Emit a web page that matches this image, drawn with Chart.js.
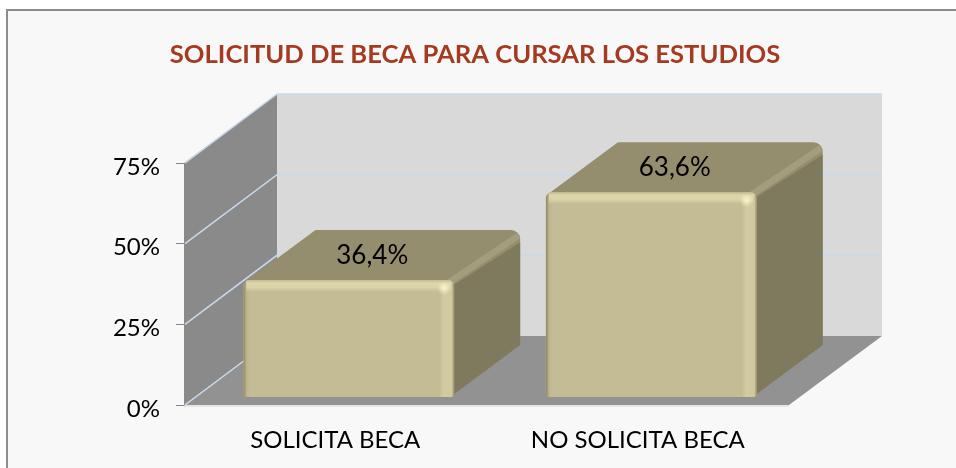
<!DOCTYPE html>
<html><head><meta charset="utf-8">
<style>
html,body{margin:0;padding:0;background:#fff;width:956px;height:468px;overflow:hidden}
#frame{position:absolute;left:6px;top:9px;right:0;bottom:0;background:#f8f8f8;border-left:2px solid #8c8c8c;border-top:2px solid #8c8c8c}
#wrap{position:absolute;left:0;top:0;width:950px;height:468px}
</style>
<script src="https://cdn.jsdelivr.net/npm/chart.js@4"></script>
</head><body>
<div id="frame"></div>
<div id="wrap"><canvas id="c" width="950" height="468"></canvas></div>
<script>
const titleText = 'SOLICITUD DE BECA PARA CURSAR LOS ESTUDIOS';
const categories = ['SOLICITA BECA', 'NO SOLICITA BECA'];
const values = [36.4, 63.6];
const tickValues = [0, 25, 50, 75];

const FONT = 'Lato, "Open Sans", sans-serif';

function roundedPoly(ctx, pts, r) {
  ctx.beginPath();
  const n = pts.length;
  const first = pts[0];
  const last = pts[n - 1];
  ctx.moveTo((first[0] + last[0]) / 2, (first[1] + last[1]) / 2);
  for (let i = 0; i < n; i++) {
    const a = pts[i], b = pts[(i + 1) % n];
    ctx.arcTo(a[0], a[1], b[0], b[1], r[i]);
  }
  ctx.closePath();
}
function poly(ctx, pts, fill) {
  ctx.beginPath();
  pts.forEach((p, i) => i ? ctx.lineTo(p[0], p[1]) : ctx.moveTo(p[0], p[1]));
  ctx.closePath();
  ctx.fillStyle = fill;
  ctx.fill();
}
const WALL = { dx: 93, dy: 69 };
const OFFSET = { x: 13.5, y: 7.5 };
const DEPTH = { dx: 66, dy: 51 };

const stage3d = {
  id: 'stage3d',
  beforeDatasetsDraw(chart) {
    const { ctx, scales: { x, y } } = chart;
    const y0 = y.getPixelForValue(0), yT = y.getPixelForValue(75);
    const L = x.left, R = x.right;
    ctx.save();
    poly(ctx, [[L + WALL.dx, yT - WALL.dy], [R + WALL.dx, yT - WALL.dy], [R + WALL.dx, y0 - WALL.dy], [L + WALL.dx, y0 - WALL.dy]], '#d9d9d9');
    poly(ctx, [[L, yT], [L + WALL.dx, yT - WALL.dy], [L + WALL.dx, y0 - WALL.dy], [L, y0]], '#8a8a8a');
    poly(ctx, [[L, y0], [R, y0], [R + WALL.dx, y0 - WALL.dy], [L + WALL.dx, y0 - WALL.dy]], '#929292');
    ctx.strokeStyle = '#d4d4d4'; ctx.lineWidth = 1.2;
    ctx.beginPath(); ctx.moveTo(L, y0 + 1); ctx.lineTo(R, y0 + 1); ctx.stroke();
    ctx.strokeStyle = '#c9d9ec'; ctx.lineWidth = 1.5;
    tickValues.forEach(v => {
      const py = y.getPixelForValue(v);
      ctx.beginPath();
      ctx.moveTo(L + 1, py);
      ctx.lineTo(L + WALL.dx, py - WALL.dy);
      if (v > 0) ctx.lineTo(R + WALL.dx, py - WALL.dy);
      ctx.stroke();
    });
    ctx.restore();
  },
  beforeDatasetDraw(chart) {
    const { ctx } = chart;
    const bars = chart.getDatasetMeta(0).data;
    ctx.save();
    ctx.translate(OFFSET.x, -OFFSET.y);
    bars.forEach(b => {
      const l = b.x - b.width / 2, r = b.x + b.width / 2, t = b.y, bt = b.base;
      ctx.save();
      // silhouette of the top and side faces
      roundedPoly(ctx, [[l + 2, t + 2], [l + DEPTH.dx + 6, t - DEPTH.dy + 1], [r + DEPTH.dx, t - DEPTH.dy + 1], [r + DEPTH.dx, bt - DEPTH.dy - 1], [r - 4, bt], [r - 4, t + 2]], [0, 2, 9, 0, 0, 0]);
      ctx.fillStyle = '#948e6f';
      ctx.fill();
      ctx.clip();
      // side face
      poly(ctx, [[r - 2, t + 6], [r + DEPTH.dx + 2, t - DEPTH.dy + 12], [r + DEPTH.dx + 2, bt], [r - 2, bt]], '#7f7a5e');
      // lit edge between the top and side faces
      ctx.strokeStyle = '#a39d7e';
      ctx.lineWidth = 6.5;
      ctx.lineCap = 'butt';
      ctx.beginPath();
      ctx.moveTo(r - 6, t + 3);
      ctx.lineTo(r + DEPTH.dx + 4, t - DEPTH.dy + 3);
      ctx.stroke();
      ctx.restore();
    });
    ctx.restore();
    ctx.save();
    ctx.translate(OFFSET.x, -OFFSET.y);
  },
  afterDatasetDraw(chart) {
    const { ctx } = chart;
    ctx.restore();
    const bars = chart.getDatasetMeta(0).data;
    ctx.save();
    ctx.translate(OFFSET.x, -OFFSET.y);
    bars.forEach(b => {
      const l = b.x - b.width / 2, r = b.x + b.width / 2, t = b.y, bt = b.base;
      const w = r - l;
      ctx.save();
      roundedPoly(ctx, [[l, t], [r, t], [r, bt], [l, bt]], [6, 6, 4, 1]);
      ctx.clip();
      // left bevel
      let g = ctx.createLinearGradient(l, 0, l + 9, 0);
      g.addColorStop(0, 'rgba(125,120,88,0.85)');
      g.addColorStop(0.4, 'rgba(185,178,138,0.6)');
      g.addColorStop(1, 'rgba(196,188,148,0)');
      ctx.fillStyle = g; ctx.fillRect(l, t, 9, bt - t);
      // right bevel
      g = ctx.createLinearGradient(r - 15, 0, r, 0);
      g.addColorStop(0, 'rgba(210,203,161,0)');
      g.addColorStop(0.3, 'rgba(210,203,161,1)');
      g.addColorStop(0.85, 'rgba(208,201,160,1)');
      g.addColorStop(1, 'rgba(140,135,100,0.9)');
      ctx.fillStyle = g; ctx.fillRect(r - 15, t, 15, bt - t);
      // top bevel
      g = ctx.createLinearGradient(0, t, 0, t + 13);
      g.addColorStop(0, 'rgba(196,190,148,1)');
      g.addColorStop(0.25, 'rgba(221,214,170,1)');
      g.addColorStop(0.6, 'rgba(221,214,170,0.85)');
      g.addColorStop(1, 'rgba(196,188,148,0)');
      ctx.fillStyle = g; ctx.fillRect(l + 3, t, w - 6, 13);
      // highlight at the front corner
      g = ctx.createRadialGradient(r - 10, t + 8, 0, r - 10, t + 8, 7);
      g.addColorStop(0, 'rgba(250,245,205,1)');
      g.addColorStop(1, 'rgba(250,245,205,0)');
      ctx.fillStyle = g; ctx.fillRect(r - 17, t + 1, 14, 14);
      ctx.restore();
    });
    ctx.restore();
    ctx.save();
    ctx.fillStyle = '#000';
    ctx.font = '26px ' + FONT;
    ctx.textAlign = 'center';
    ctx.textBaseline = 'middle';
    bars.forEach((b, i) => {
      ctx.fillText(values[i].toFixed(1).replace('.', ',') + '%', b.x + OFFSET.x + 23.5, b.y - OFFSET.y - 24.5);
    });
    ctx.restore();
  }
};

Chart.defaults.font.family = FONT;
new Chart(document.getElementById('c'), {
  type: 'bar',
  data: {
    labels: categories,
    datasets: [{
      data: values,
      backgroundColor: '#c4bc94',
      borderWidth: 0,
      borderRadius: { topLeft: 6, topRight: 6, bottomLeft: 1, bottomRight: 4 },
      borderSkipped: false,
      barPercentage: 0.697,
      categoryPercentage: 1,
      clip: false
    }]
  },
  options: {
    responsive: false,
    animation: false,
    events: [],
    plugins: {
      legend: { display: false },
      tooltip: { enabled: false },
      title: {
        display: true,
        text: titleText,
        color: '#a53a20',
        font: { family: FONT, size: 25.6, weight: 'bold', lineHeight: 1.2 },
        padding: { top: 39, bottom: 93.3 }
      }
    },
    scales: {
      x: {
        grid: { display: false },
        border: { display: false },
        ticks: { color: '#000', font: { size: 24 }, padding: 13, maxRotation: 0, autoSkip: false },
        afterFit(s) { s.height = 63; }
      },
      y: {
        z: 1,
        min: 0, max: 75,
        afterBuildTicks(s) { s.ticks = tickValues.map(v => ({ value: v })); },
        grid: { drawOnChartArea: false, tickLength: 8, color: '#868686', tickColor: '#868686' },
        border: { display: true, color: '#868686', width: 1 },
        ticks: { color: '#000', font: { size: 24 }, padding: 16, labelOffset: 4, callback: v => v + '%' },
        afterFit(s) { s.width = 184; }
      },
      rightGutter: {
        position: 'right',
        min: 0, max: 75,
        grid: { display: false },
        border: { display: false },
        ticks: { display: false },
        afterFit(s) { s.width = 161; }
      }
    }
  },
  plugins: [stage3d]
});
</script>
</body></html>
